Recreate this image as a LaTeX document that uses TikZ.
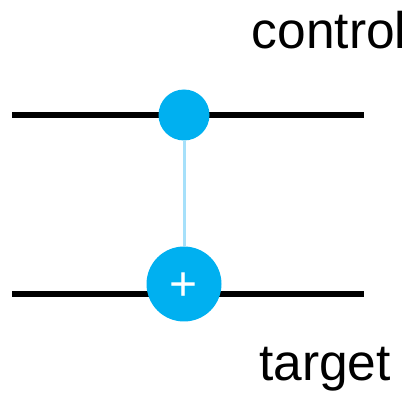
\documentclass[tikz,border=0pt]{standalone}
\usepackage{fontspec}
\setmainfont{Liberation Sans}
\definecolor{qblue}{HTML}{00B0F0}
\definecolor{qlight}{HTML}{A6E0FA}
\tikzset{wire/.style={line width=5.5pt,black},
 ctrl/.style={circle,fill=qblue,inner sep=0pt,minimum size=#1},
 lbl/.style={inner sep=0pt,font=\fontsize{51.5pt}{52pt}\selectfont}}
\begin{document}
\begin{tikzpicture}[x=1pt,y=-1pt]
\useasboundingbox (0,0) rectangle (413,393);
\coordinate (a1) at (12,115);
\coordinate (a2) at (364,115);
\coordinate (b1) at (12,294);
\coordinate (b2) at (364,294);
\draw[wire] (a1) -- (a2);
\draw[wire] (b1) -- (b2);
\node[ctrl=51pt] (c) at (184,115) {};
\node[ctrl=75pt] (t) at (184,284) {};
\draw[qlight,line width=3pt] (c) -- (t);
\node[text=white,font=\fontsize{48pt}{48pt}\selectfont,inner sep=0pt] (p) at (184,287) {+};
\node[lbl,anchor=base] (l1) at (329,49) {control};
\node[lbl,anchor=base] (l2) at (325,381) {target};
\end{tikzpicture}
\end{document}
